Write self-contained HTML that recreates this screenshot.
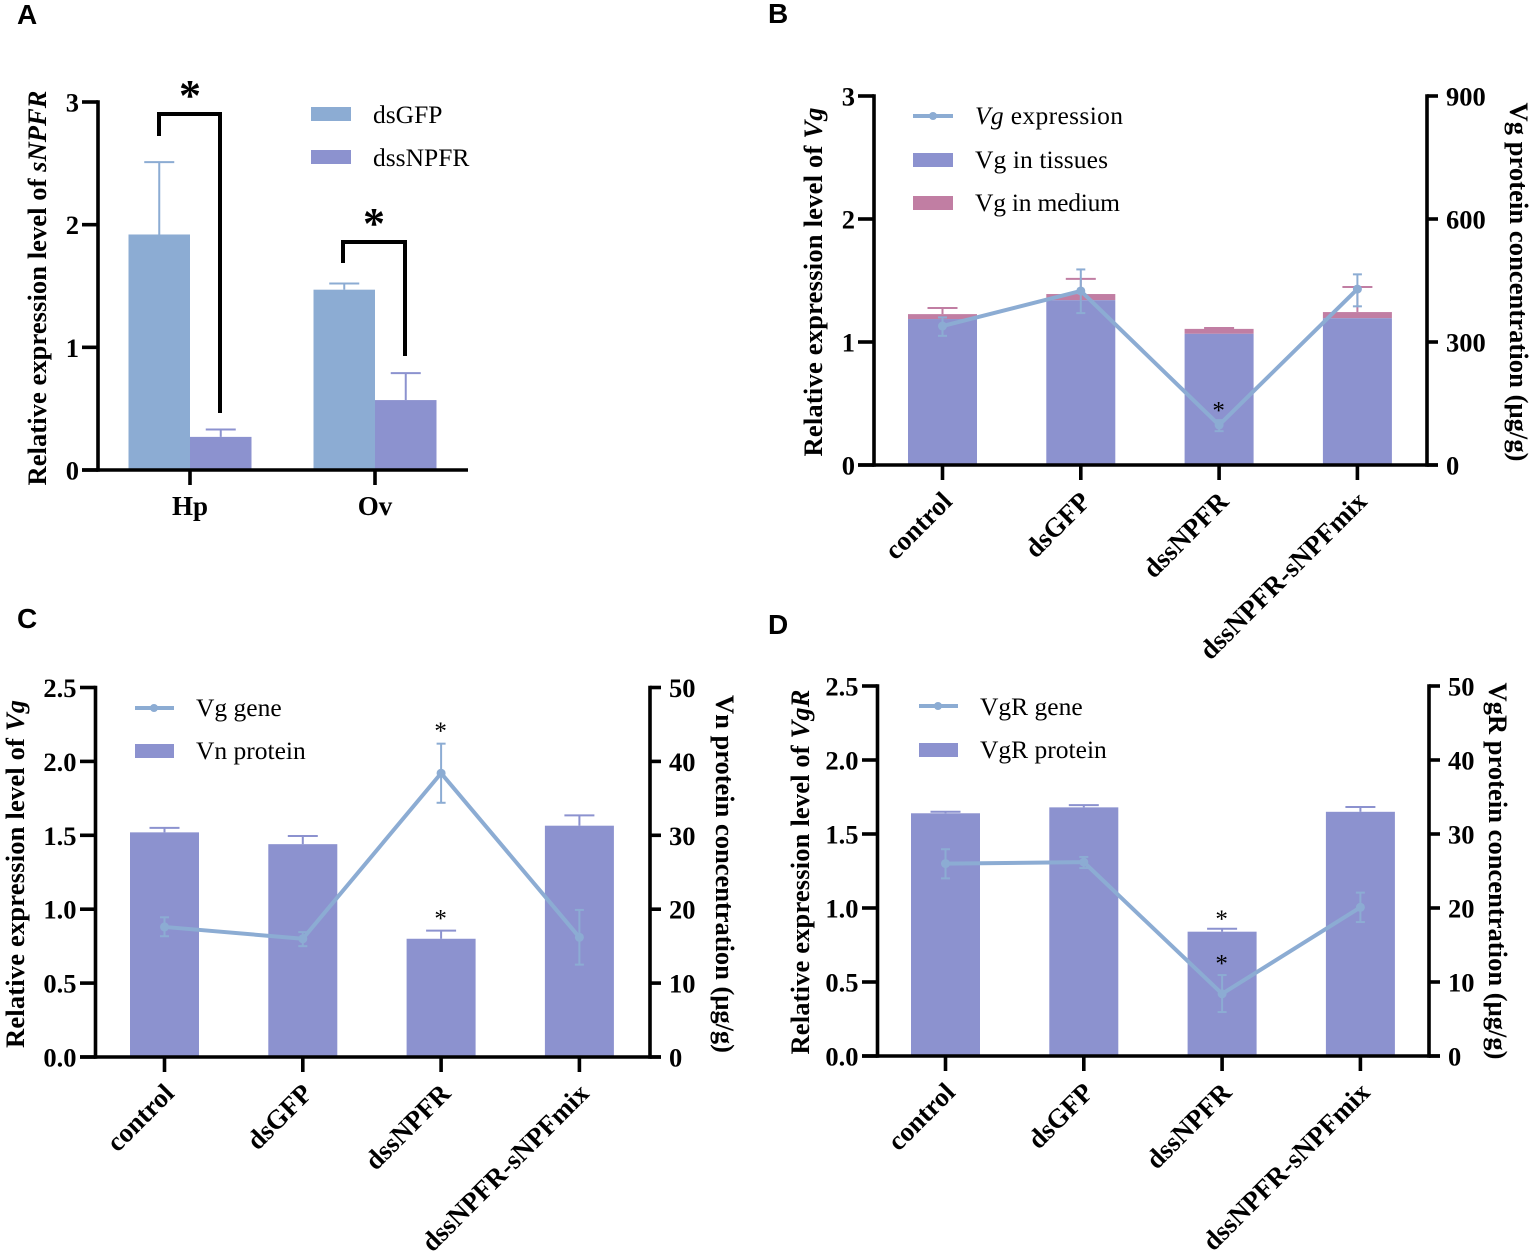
<!DOCTYPE html>
<html lang="en">
<head>
<meta charset="utf-8">
<title>Four-panel expression chart</title>
<style>
html,body{margin:0;padding:0;background:#fff;}
svg{display:block;}
text{font-family:"Liberation Serif",serif;fill:#000;}
.panel-letter{font-family:"Liberation Sans",sans-serif;font-weight:700;font-size:28px;}
.title{font-weight:700;font-size:26.5px;}
.tick{font-weight:700;font-size:26.5px;}
.cat{font-weight:700;font-size:27px;}
.legend{font-size:25.5px;}
.star{font-size:25px;}
.bigstar{font-size:44px;font-weight:700;}
</style>
</head>
<body>
<svg id="chart" xmlns="http://www.w3.org/2000/svg" width="1535" height="1256" viewBox="0 0 1535 1256">
  <text class="panel-letter" x="17" y="24">A</text>
  <text class="panel-letter" x="768" y="23">B</text>
  <text class="panel-letter" x="17" y="628">C</text>
  <text class="panel-letter" x="768" y="634">D</text>

  <text class="title" transform="translate(46,288) rotate(-90)" text-anchor="middle" textLength="395">Relative expression level of <tspan font-style="italic">sNPFR</tspan></text>
  <text class="title" transform="translate(822,282) rotate(-90)" text-anchor="middle" textLength="349">Relative expression level of <tspan font-style="italic">Vg</tspan></text>
  <text class="title" transform="translate(1510,282) rotate(90)" text-anchor="middle" textLength="359">Vg protein concentration (μg/g)</text>
  <text class="title" transform="translate(24,874) rotate(-90)" text-anchor="middle" textLength="348">Relative expression level of <tspan font-style="italic">Vg</tspan></text>
  <text class="title" transform="translate(716,874) rotate(90)" text-anchor="middle" textLength="358">Vn protein concentration (μg/g)</text>
  <text class="title" transform="translate(809,872) rotate(-90)" text-anchor="middle" textLength="365">Relative expression level of <tspan font-style="italic">VgR</tspan></text>
  <text class="title" transform="translate(1489,871) rotate(90)" text-anchor="middle" textLength="377">VgR protein concentration (μg/g)</text>

  <g>
    <rect x="311" y="107" width="40" height="14" fill="#8CACD3"/>
    <text class="legend" x="373" y="123">dsGFP</text>
    <rect x="311" y="150" width="40" height="14" fill="#8C92CF"/>
    <text class="legend" x="373" y="166">dssNPFR</text>
  </g>
  <g>
    <line x1="913" y1="116" x2="953" y2="116" stroke="#8CACD3" stroke-width="4"/>
    <circle cx="933" cy="116" r="4" fill="#8CACD3"/>
    <text class="legend" x="975" y="124" textLength="148"><tspan font-style="italic">Vg</tspan> expression</text>
    <rect x="913" y="153" width="40" height="14" fill="#8C92CF"/>
    <text class="legend" x="975" y="168" textLength="133">Vg in tissues</text>
    <rect x="913" y="196" width="40" height="14" fill="#C17EA3"/>
    <text class="legend" x="975" y="211" textLength="145">Vg in medium</text>
  </g>
  <g>
    <line x1="135" y1="708" x2="174" y2="708" stroke="#8CACD3" stroke-width="4"/>
    <circle cx="154" cy="708" r="4" fill="#8CACD3"/>
    <text class="legend" x="196" y="716">Vg gene</text>
    <rect x="135" y="744" width="39" height="14" fill="#8C92CF"/>
    <text class="legend" x="196" y="759">Vn protein</text>
  </g>
  <g>
    <line x1="919" y1="706" x2="958" y2="706" stroke="#8CACD3" stroke-width="4"/>
    <circle cx="938" cy="706" r="4" fill="#8CACD3"/>
    <text class="legend" x="980" y="715">VgR gene</text>
    <rect x="919" y="743" width="39" height="14" fill="#8C92CF"/>
    <text class="legend" x="980" y="758">VgR protein</text>
  </g>
</svg>
<script>
// ---- Panel A data ----
const aCategories = ['Hp', 'Ov'];
const aYTicks = [0, 1, 2, 3];
const aDsGFP = [1.92, 1.47];
const aDsGFPUpper = [2.51, 1.52];
const aDssNPFR = [0.27, 0.57];
const aDssNPFRUpper = [0.33, 0.79];

// ---- Shared categories for B, C, D ----
const groupCategories = ['control', 'dsGFP', 'dssNPFR', 'dssNPFR-sNPFmix'];

// ---- Panel B data ----
const bLeftTicks = ['0', '1', '2', '3'];
const bRightTicks = ['0', '300', '600', '900'];
const bTissues = [356, 402, 320, 358];
const bMedium = [12, 15, 12, 15];
const bMediumUpper = [383, 454, 334, 434];
const bGene = [1.13, 1.415, 0.325, 1.43];
const bGeneUpper = [1.2, 1.59, 0.365, 1.55];
const bGeneLower = [1.05, 1.235, 0.275, 1.29];
const bStars = [null, null, 0.46, null];

// ---- Panel C data ----
const cLeftTicks = ['0.0', '0.5', '1.0', '1.5', '2.0', '2.5'];
const cRightTicks = ['0', '10', '20', '30', '40', '50'];
const cProtein = [30.4, 28.8, 16.0, 31.3];
const cProteinUpper = [31.0, 29.9, 17.1, 32.7];
const cGene = [0.88, 0.80, 1.92, 0.81];
const cGeneUpper = [0.945, 0.845, 2.12, 0.995];
const cGeneLower = [0.817, 0.75, 1.72, 0.625];
const cStars = [null, null, 2.22, null];
const cProteinStars = [null, null, 0.95, null];

// ---- Panel D data ----
const dLeftTicks = ['0.0', '0.5', '1.0', '1.5', '2.0', '2.5'];
const dRightTicks = ['0', '10', '20', '30', '40', '50'];
const dProtein = [32.8, 33.6, 16.8, 33.0];
const dProteinUpper = [33.0, 33.9, 17.2, 33.65];
const dGene = [1.30, 1.31, 0.42, 1.005];
const dGeneUpper = [1.397, 1.345, 0.547, 1.104];
const dGeneLower = [1.2, 1.27, 0.297, 0.905];
const dStars = [null, null, 0.64, null];
const dProteinStars = [null, null, 0.94, null];

const BLUE = '#8CACD3', PURPLE = '#8C92CF', PINK = '#C17EA3';
const AXIS_W = 3.6;
const svg = document.getElementById('chart');
const NS = 'http://www.w3.org/2000/svg';

function mk(tag, attrs, text) {
  const n = document.createElementNS(NS, tag);
  for (const k in attrs) n.setAttribute(k, attrs[k]);
  if (text !== undefined) n.textContent = text;
  svg.appendChild(n);
  return n;
}
function linearScale(d0, d1, r0, r1) {
  return v => r0 + (v - d0) / (d1 - d0) * (r1 - r0);
}
function drawLeftAxis(px, x, y, labels, tickLen, labelGap, top, bottom) {
  const axis = mk('line', {x1: x, y1: top - AXIS_W / 2, x2: x, y2: bottom + AXIS_W / 2, stroke: '#000', 'stroke-width': AXIS_W});
  
  
  labels.forEach(lbl => {
    const v = parseFloat(lbl);
    const t = mk('line', {x1: x - tickLen, y1: y(v), x2: x, y2: y(v), stroke: '#000', 'stroke-width': AXIS_W});
    
    
    const l = mk('text', {class: 'tick', x: x - labelGap, y: y(v) + 9.5, 'text-anchor': 'end'}, lbl);
    
    
  });
}
function drawRightAxis(px, x, y, labels, top, bottom) {
  const axis = mk('line', {x1: x, y1: top - AXIS_W / 2, x2: x, y2: bottom + AXIS_W / 2, stroke: '#000', 'stroke-width': AXIS_W});
  
  
  labels.forEach(lbl => {
    const v = parseFloat(lbl);
    const t = mk('line', {x1: x, y1: y(v), x2: x + 11, y2: y(v), stroke: '#000', 'stroke-width': AXIS_W});
    
    
    const l = mk('text', {class: 'tick', x: x + 19, y: y(v) + 9.5}, lbl);
    
    
  });
}
function errorBar(px, cx, yTop, yBottom, half, color) {
  const v = mk('line', {x1: cx, y1: yTop, x2: cx, y2: yBottom, stroke: color, 'stroke-width': 2});
  
  
  const c = mk('line', {x1: cx - half, y1: yTop, x2: cx + half, y2: yTop, stroke: color, 'stroke-width': 2});
  
  
}
function drawCategories(px, cx, base, cats) {
  cats.forEach((c, i) => {
    const t = mk('line', {x1: cx(i), y1: base, x2: cx(i), y2: base + 15, stroke: '#000', 'stroke-width': AXIS_W});
    
    
    const l = mk('text', {class: 'cat', 'text-anchor': 'end', transform: 'translate(' + (cx(i) + 11) + ',' + (base + 38) + ') rotate(-45)'}, c);
    
    
  });
}
function drawGene(px, cx, y, gene, upper, lower) {
  const pts = gene.map((v, i) => cx(i) + ',' + y(v)).join(' ');
  gene.forEach((v, i) => {
    errorBar(px + '-gene', cx(i), y(upper[i]), y(lower[i]), 4.5, BLUE);
    const c = mk('line', {x1: cx(i) - 4.5, y1: y(lower[i]), x2: cx(i) + 4.5, y2: y(lower[i]), stroke: BLUE, 'stroke-width': 2});
    
    
  });
  const line = mk('polyline', {points: pts, fill: 'none', stroke: BLUE, 'stroke-width': 4, 'stroke-linejoin': 'round'});
  
  
  gene.forEach((v, i) => {
    const p = mk('circle', {cx: cx(i), cy: y(v), r: 4.5, fill: BLUE});
    
    
  });
}
function drawStars(px, cx, y, stars) {
  stars.forEach((s, i) => {
    if (s === null) return;
    const t = mk('text', {class: 'star', x: cx(i) - 0.5, y: y(s) + 10, 'text-anchor': 'middle'}, '*');
    
    
  });
}

// ---- Panel A ----
(function () {
  const y = linearScale(0, 3, 470, 102);
  const cx = i => 190 + i * 185;
  const w = 61.5;
  aCategories.forEach((c, i) => {
    const b1 = mk('rect', {x: cx(i) - w, y: y(aDsGFP[i]), width: w, height: y(0) - y(aDsGFP[i]), fill: BLUE});
    
    
    const b2 = mk('rect', {x: cx(i), y: y(aDssNPFR[i]), width: w, height: y(0) - y(aDssNPFR[i]), fill: PURPLE});
    
    
    errorBar('panel-a-dsgfp', cx(i) - w / 2, y(aDsGFPUpper[i]), y(aDsGFP[i]), 15, BLUE);
    errorBar('panel-a-dssnpfr', cx(i) + w / 2, y(aDssNPFRUpper[i]), y(aDssNPFR[i]), 15, PURPLE);
    const t = mk('line', {x1: cx(i), y1: 470, x2: cx(i), y2: 485, stroke: '#000', 'stroke-width': AXIS_W});
    
    
    const l = mk('text', {class: 'cat', x: cx(i), y: 515, 'text-anchor': 'middle'}, c);
    
    
  });
  drawLeftAxis('panel-a', 98, y, aYTicks.map(String), 16, 19, 102, 470);
  const xa = mk('line', {x1: 82, y1: 470, x2: 468, y2: 470, stroke: '#000', 'stroke-width': AXIS_W});
  
  

  const br1 = mk('polyline', {points: '159,136 159,114 220,114 220,413', fill: 'none', stroke: '#000', 'stroke-width': 4});
  
  
  const br2 = mk('polyline', {points: '343,263 343,242 405,242 405,356', fill: 'none', stroke: '#000', 'stroke-width': 4});
  
  
  const s1 = mk('text', {class: 'bigstar', x: 190, y: 110, 'text-anchor': 'middle'}, '*');
  
  
  const s2 = mk('text', {class: 'bigstar', x: 374, y: 238, 'text-anchor': 'middle'}, '*');
  
  
})();

// ---- Panel B ----
(function () {
  const yL = linearScale(0, 3, 465, 96);
  const yR = linearScale(0, 900, 465, 96);
  const cx = i => 942.5 + i * 138.3;
  const w = 69;
  groupCategories.forEach((c, i) => {
    const top = bTissues[i] + bMedium[i];
    errorBar('panel-b-medium', cx(i), yR(bMediumUpper[i]), yR(top), 15, PINK);
    const m = mk('rect', {x: cx(i) - w / 2, y: yR(top), width: w, height: yR(bTissues[i]) - yR(top), fill: PINK});
    
    
    const b = mk('rect', {x: cx(i) - w / 2, y: yR(bTissues[i]), width: w, height: yR(0) - yR(bTissues[i]), fill: PURPLE});
    
    
  });
  drawGene('panel-b', cx, yL, bGene, bGeneUpper, bGeneLower);
  drawStars('panel-b', cx, yL, bStars);
  drawLeftAxis('panel-b', 874, yL, bLeftTicks, 16, 19, 96, 465);
  drawRightAxis('panel-b', 1427, yR, bRightTicks, 96, 465);
  const xa = mk('line', {x1: 858, y1: 465, x2: 1438, y2: 465, stroke: '#000', 'stroke-width': AXIS_W});
  
  
  drawCategories('panel-b', cx, 465, groupCategories);
})();

// ---- Panel C ----
(function () {
  const yL = linearScale(0, 2.5, 1057, 687.5);
  const yR = linearScale(0, 50, 1057, 687.5);
  const cx = i => 164.5 + i * 138.3;
  const w = 69;
  groupCategories.forEach((c, i) => {
    errorBar('panel-c-protein', cx(i), yR(cProteinUpper[i]), yR(cProtein[i]), 15, PURPLE);
    const b = mk('rect', {x: cx(i) - w / 2, y: yR(cProtein[i]), width: w, height: yR(0) - yR(cProtein[i]), fill: PURPLE});
    
    
  });
  drawGene('panel-c', cx, yL, cGene, cGeneUpper, cGeneLower);
  drawStars('panel-c', cx, yL, cStars);
  drawStars('panel-c-protein', cx, yL, cProteinStars);
  drawLeftAxis('panel-c', 95.5, yL, cLeftTicks, 15.5, 19, 687.5, 1057);
  drawRightAxis('panel-c', 650, yR, cRightTicks, 687.5, 1057);
  const xa = mk('line', {x1: 80, y1: 1057, x2: 661, y2: 1057, stroke: '#000', 'stroke-width': AXIS_W});
  
  
  drawCategories('panel-c', cx, 1057, groupCategories);
})();

// ---- Panel D ----
(function () {
  const yL = linearScale(0, 2.5, 1056, 686);
  const yR = linearScale(0, 50, 1056, 686);
  const cx = i => 945.5 + i * 138.3;
  const w = 69;
  groupCategories.forEach((c, i) => {
    errorBar('panel-d-protein', cx(i), yR(dProteinUpper[i]), yR(dProtein[i]), 15, PURPLE);
    const b = mk('rect', {x: cx(i) - w / 2, y: yR(dProtein[i]), width: w, height: yR(0) - yR(dProtein[i]), fill: PURPLE});
    
    
  });
  drawGene('panel-d', cx, yL, dGene, dGeneUpper, dGeneLower);
  drawStars('panel-d', cx, yL, dStars);
  drawStars('panel-d-protein', cx, yL, dProteinStars);
  drawLeftAxis('panel-d', 877.5, yL, dLeftTicks, 15.5, 19, 686, 1056);
  drawRightAxis('panel-d', 1429, yR, dRightTicks, 686, 1056);
  const xa = mk('line', {x1: 862, y1: 1056, x2: 1440, y2: 1056, stroke: '#000', 'stroke-width': AXIS_W});
  
  
  drawCategories('panel-d', cx, 1056, groupCategories);
})();
</script>
</body>
</html>
